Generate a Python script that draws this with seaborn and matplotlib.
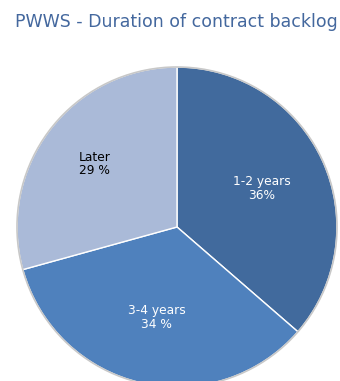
import numpy as np
import matplotlib
matplotlib.use("Agg")
import matplotlib.pyplot as plt
import seaborn as sns

# Backlog split by contract duration
categories = ["1-2 years", "3-4 years", "Later"]
shares = [36, 34, 29]
share_labels = ["36%", "34 %", "29 %"]

title = "PWWS - Duration of contract backlog"

sns.set_theme(style="white")
plt.rcParams["font.family"] = ["DejaVu Sans"]

colors = ["#416A9D", "#4F81BD", "#AABAD8"]
text_colors = ["white", "white", "black"]
label_dist = [0.58, 0.58, 0.65]

fig = plt.figure(figsize=(3.40, 3.81), dpi=100)
fig.patch.set_facecolor("white")

# Pie area: centred horizontally, running off the bottom edge
ax = fig.add_axes([17 / 340, (381 - 387) / 381, 320 / 340, 320 / 381])
ax.set_aspect("equal")

wedges, _ = ax.pie(
    shares,
    colors=colors,
    startangle=90,
    counterclock=False,
    radius=1.0,
    wedgeprops=dict(edgecolor="white", linewidth=1.0, clip_on=False),
)

# thin grey rim around the pie
rim = plt.Circle((0, 0), 1.0, fill=False, edgecolor="#C8C8C8", linewidth=1.2,
                 zorder=3, clip_on=False)
ax.add_patch(rim)

for w, cat, lab, tc, d in zip(wedges, categories, share_labels, text_colors, label_dist):
    ang = np.deg2rad((w.theta1 + w.theta2) / 2)
    ax.text(d * np.cos(ang), d * np.sin(ang), f"{cat}\n{lab}",
            ha="center", va="center", color=tc, fontsize=8.8, linespacing=1.05)

ax.set_xlim(-1.0, 1.0)
ax.set_ylim(-1.0, 1.0)
ax.axis("off")

fig.text(176 / 340, 1 - 22 / 381, title, ha="center", va="center",
         color="#44689E", fontsize=12.5)

fig.savefig("out.png", dpi=100, facecolor="white")
